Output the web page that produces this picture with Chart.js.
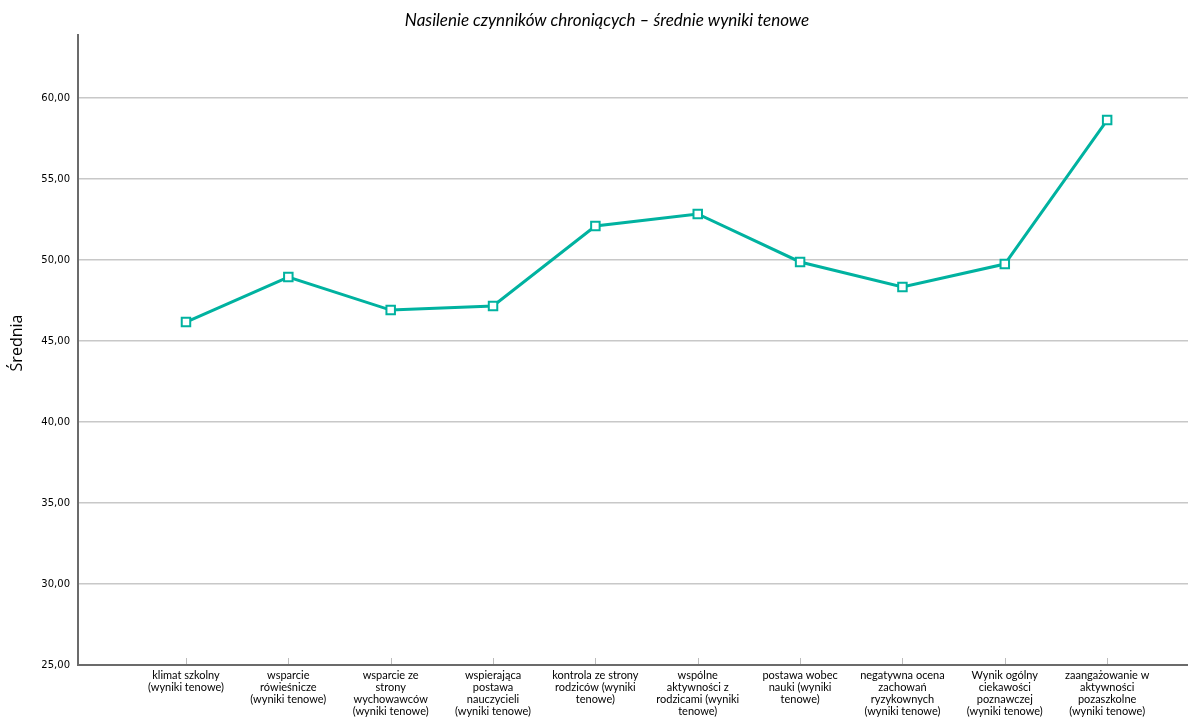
<!DOCTYPE html>
<html>
<head>
<meta charset="utf-8">
<script src="https://cdn.jsdelivr.net/npm/chart.js@4.4.1/dist/chart.umd.min.js"></script>
<style>
html,body{margin:0;padding:0;background:#fff;overflow:hidden;}
#wrap{width:1188px;height:718px;position:relative;}
canvas{display:block;}
</style>
</head>
<body>
<div id="wrap"><canvas id="c" width="1188" height="718"></canvas></div>
<script>
const chartTitle = 'Nasilenie czynników chroniących – średnie wyniki tenowe';
const yAxisTitle = 'Średnia';
const categories = [
  ['klimat szkolny', '(wyniki tenowe)'],
  ['wsparcie', 'rówieśnicze', '(wyniki tenowe)'],
  ['wsparcie ze', 'strony', 'wychowawców', '(wyniki tenowe)'],
  ['wspierająca', 'postawa', 'nauczycieli', '(wyniki tenowe)'],
  ['kontrola ze strony', 'rodziców (wyniki', 'tenowe)'],
  ['wspólne', 'aktywności z', 'rodzicami (wyniki', 'tenowe)'],
  ['postawa wobec', 'nauki (wyniki', 'tenowe)'],
  ['negatywna ocena', 'zachowań', 'ryzykownych', '(wyniki tenowe)'],
  ['Wynik ogólny', 'ciekawości', 'poznawczej', '(wyniki tenowe)'],
  ['zaangażowanie w', 'aktywności', 'pozaszkolne', '(wyniki tenowe)']
];
const means = [46.17, 48.95, 46.91, 47.16, 52.10, 52.84, 49.88, 48.33, 49.75, 58.64];
const yTicks = [25, 30, 35, 40, 45, 50, 55, 60];

const points = means.map((v, i) => ({x: i, y: v}));

const textPlugin = {
  id: 'customText',
  afterDraw(chart) {
    const ctx = chart.ctx;
    ctx.save();
    ctx.font = 'italic 17px Lato';
    ctx.fillStyle = '#000';
    ctx.textAlign = 'center';
    ctx.textBaseline = 'middle';
    ctx.fillText(chartTitle, 607, 21);
    ctx.translate(17, 343);
    ctx.rotate(-Math.PI / 2);
    ctx.font = '16px "Open Sans"';
    ctx.fillText(yAxisTitle, 0, 0);
    ctx.restore();
  }
};
const tickMarks = {
  id: 'tickMarks',
  afterDatasetsDraw(chart) {
    const xs = chart.scales.x, ys = chart.scales.y;
    const ctx = chart.ctx;
    const b = ys.getPixelForValue(25);
    ctx.save();
    ctx.strokeStyle = '#bdbdbd';
    ctx.lineWidth = 1;
    categories.forEach((c, i) => {
      const px = Math.round(xs.getPixelForValue(i)) + 0.5;
      ctx.beginPath();
      ctx.moveTo(px, b - 1);
      ctx.lineTo(px, b - 7);
      ctx.stroke();
    });
    ctx.restore();
  }
};

new Chart(document.getElementById('c'), {
  type: 'line',
  data: {
    datasets: [{
      data: points,
      borderColor: '#00b2a0',
      borderWidth: 3,
      pointStyle: 'rect',
      pointRadius: 6,
      pointBorderWidth: 2,
      pointBackgroundColor: '#ffffff',
      pointBorderColor: '#00b2a0',
      tension: 0,
      clip: false
    }]
  },
  options: {
    responsive: false,
    animation: false,
    devicePixelRatio: 1,
    layout: {autoPadding: false, padding: {top: 35, right: 0, left: 0, bottom: 0}},
    plugins: {legend: {display: false}, tooltip: {enabled: false}, title: {display: false}},
    scales: {
      x: {
        type: 'linear',
        min: -1.055,
        max: 9.79,
        afterBuildTicks(scale) { scale.ticks = categories.map((c, i) => ({value: i})); },
        afterFit(scale) { scale.height = 53; scale.paddingLeft = 0; scale.paddingRight = 0; },
        grid: {display: true, drawOnChartArea: false, drawTicks: false},
        border: {display: true, color: '#6b6b6b', width: 2},
        ticks: {
          autoSkip: false,
          maxRotation: 0,
          padding: 5,
          color: '#000',
          font: {family: 'Lato', size: 11, lineHeight: 1.07},
          callback: (v) => categories[v]
        }
      },
      y: {
        min: 25,
        max: 63.89,
        afterBuildTicks(scale) { scale.ticks = yTicks.map(v => ({value: v})); },
        afterFit(scale) { scale.width = 78; scale.paddingTop = 0; scale.paddingBottom = 0; },
        grid: {color: '#c8c8c8', lineWidth: 1.5, drawTicks: false},
        border: {display: true, color: '#6b6b6b', width: 2},
        title: {display: false},
        ticks: {
          padding: 8,
          color: '#000',
          font: {family: 'DejaVu Sans', size: 10},
          callback: (v) => v.toFixed(2).replace('.', ',')
        }
      }
    }
  },
  plugins: [textPlugin, tickMarks]
});
</script>
</body>
</html>
